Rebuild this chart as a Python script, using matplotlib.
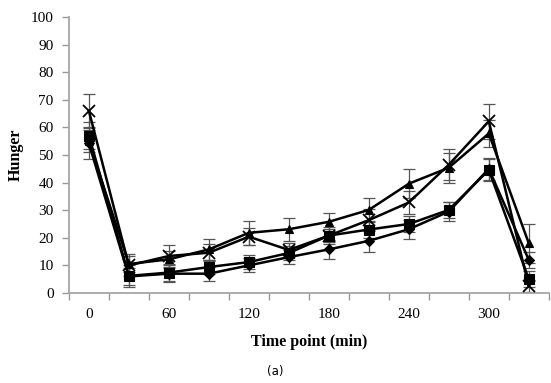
import matplotlib
matplotlib.use('Agg')
import matplotlib.pyplot as plt

# time points (min) and mean hunger ratings per group
time_min = [0, 30, 60, 90, 120, 150, 180, 210, 240, 270, 300, 330]
diamond = [54.2, 6.0, 7.0, 7.0, 10.0, 13.0, 15.8, 18.9, 23.1, 29.5, 45.0, 12.0]
square = [57.0, 6.2, 7.4, 9.4, 11.2, 14.5, 20.8, 23.0, 25.0, 30.1, 44.6, 5.0]
triangle = [55.0, 10.5, 12.2, 15.8, 21.8, 23.1, 25.8, 30.1, 39.6, 45.4, 57.8, 18.0]
cross = [66.0, 10.0, 13.4, 14.6, 20.4, 15.6, 20.8, 26.4, 32.8, 46.5, 62.2, 2.5]

diamond_err = [5.5, 3.0, 3.0, 2.5, 2.5, 2.5, 3.5, 4.0, 3.5, 3.5, 4.0, 3.0]
square_err = [5.0, 4.0, 3.0, 2.5, 2.5, 2.5, 2.5, 3.0, 3.0, 3.0, 4.0, 3.0]
triangle_err = [4.0, 3.0, 3.0, 3.7, 4.3, 4.2, 3.3, 4.4, 5.3, 5.5, 5.0, 7.0]
cross_err = [6.0, 4.0, 4.0, 3.0, 3.0, 2.5, 3.0, 4.0, 4.0, 5.5, 6.3, 2.0]

x_labels = ['0', '60', '120', '180', '240', '300']
x_label_pos = [0, 60, 120, 180, 240, 300]

plt.rcParams['font.family'] = ['Liberation Serif', 'DejaVu Serif']

fig = plt.figure(figsize=(5.51, 3.83), dpi=100)
ax = fig.add_axes([0.125, 0.235, 0.871, 0.7206])

series = [
    (diamond, diamond_err, 'D', 5),
    (square, square_err, 's', 6.5),
    (triangle, triangle_err, '^', 6),
    (cross, cross_err, 'x', 8),
]
for vals, errs, mk, ms in series:
    ax.errorbar(time_min, vals, yerr=errs, fmt='none', ecolor='#555555',
                elinewidth=0.9, capsize=4, capthick=0.9, zorder=2)
    ax.plot(time_min, vals, color='black', linewidth=1.8, marker=mk,
            markersize=ms, markeredgewidth=1.3 if mk == 'x' else 0.8,
            markerfacecolor='black', markeredgecolor='black', zorder=3)

ax.set_xlim(-15, 345)
ax.set_ylim(0, 100)
ax.set_yticks(range(0, 101, 10))

# category boundary ticks, labels every 60 min
ax.set_xticks([t - 15 for t in time_min] + [345])
ax.set_xticklabels([])
ax.set_xticks(x_label_pos, minor=True)
ax.set_xticklabels(x_labels, minor=True)
ax.tick_params(axis='x', which='major', length=5, width=1, color='#999999', direction='out')
ax.tick_params(axis='x', which='minor', length=0, pad=11, labelsize=11)
ax.tick_params(axis='y', length=5, width=1, color='#999999', direction='out', labelsize=11, pad=6)

for s in ['top', 'right']:
    ax.spines[s].set_visible(False)
for s in ['left', 'bottom']:
    ax.spines[s].set_color('#a6a6a6')
    ax.spines[s].set_linewidth(1.3)

ax.set_ylabel('Hunger', fontsize=11.5, fontweight='bold', labelpad=5)
ax.set_xlabel('Time point (min)', fontsize=11.5, fontweight='bold', labelpad=9)

fig.text(0.5, 0.029, '(a)', ha='center', va='center', fontsize=8.5,
         family=['DejaVu Sans'])

plt.savefig('out.png', dpi=100)
plt.close()
